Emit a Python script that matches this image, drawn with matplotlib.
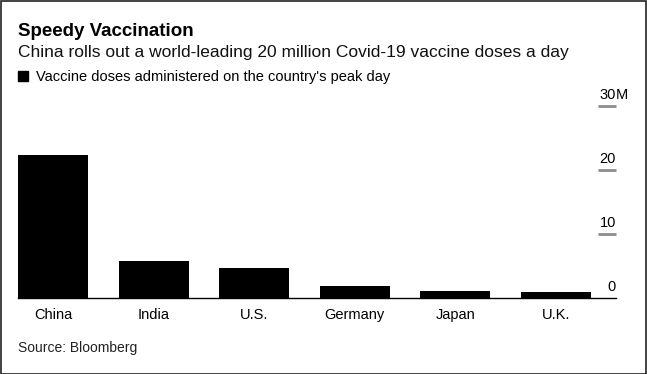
import matplotlib.pyplot as plt
from matplotlib.patches import Rectangle

plt.rcParams['font.family'] = ['Liberation Sans', 'DejaVu Sans']

# Peak-day vaccine doses, millions
countries = ['China', 'India', 'U.S.', 'Germany', 'Japan', 'U.K.']
doses = [22.3, 5.8, 4.7, 1.9, 1.05, 0.9]
tick_values = [0, 10, 20, 30]
tick_labels = ['0', '10', '20', '30']

W, H = 647, 374
fig = plt.figure(figsize=(W / 100, H / 100), dpi=100)

# Axes placed in pixel coordinates of the reference
left, right, bottom, top = 18, 616, 298, 106
ax = fig.add_axes([left / W, 1 - bottom / H, (right - left) / W, (bottom - top) / H])

x = list(range(len(countries)))
ax.bar(x, doses, width=0.696, color='black', linewidth=0)
ax.set_xlim(-0.348, 5.597)
ax.set_ylim(0, 30)

for s in ['top', 'right', 'left']:
    ax.spines[s].set_visible(False)
ax.spines['bottom'].set_linewidth(1.0)
ax.spines['bottom'].set_color('black')
ax.set_yticks([])
ax.set_xticks(x)
ax.set_xticklabels(countries, fontsize=10.5)
ax.tick_params(axis='x', length=0, pad=7)

# right-side value ticks: short grey dashes with labels above
for v, lab in zip(tick_values, tick_labels):
    if v > 0:
        ax.plot([5.417, 5.597], [v, v], color='#8c8c8c', lw=2, clip_on=False,
                solid_capstyle='butt')
    ax.annotate(lab, xy=(5.597, v), xytext=(0, 5), textcoords='offset points',
                ha='right', va='baseline', fontsize=10.5, annotation_clip=False)
    if v == 30:
        ax.annotate('M', xy=(5.597, v), xytext=(0, 5), textcoords='offset points',
                    ha='left', va='baseline', fontsize=10.5, annotation_clip=False)

# titles
fig.text(18 / W, 1 - 36 / H, 'Speedy Vaccination', fontsize=13.5, fontweight='bold',
         va='baseline', ha='left')
fig.text(18 / W, 1 - 57 / H,
         'China rolls out a world-leading 20 million Covid-19 vaccine doses a day',
         fontsize=12.5, va='baseline', ha='left', color='#111111')
fig.patches.append(Rectangle((18 / W, 1 - 81 / H), 10 / W, 10 / H,
                             transform=fig.transFigure, color='black'))
fig.text(36 / W, 1 - 81 / H, "Vaccine doses administered on the country's peak day",
         fontsize=10.5, va='baseline', ha='left')
fig.text(18 / W, 1 - 352 / H, 'Source: Bloomberg', fontsize=10, va='baseline',
         ha='left', color='#222222')

# outer frame
fig.patches.append(Rectangle((0.5 / W, 0.5 / H), (W - 1.5) / W, (H - 1.5) / H,
                             transform=fig.transFigure, fill=False,
                             edgecolor='#222222', linewidth=1.2))

fig.savefig('out.png', dpi=100)
